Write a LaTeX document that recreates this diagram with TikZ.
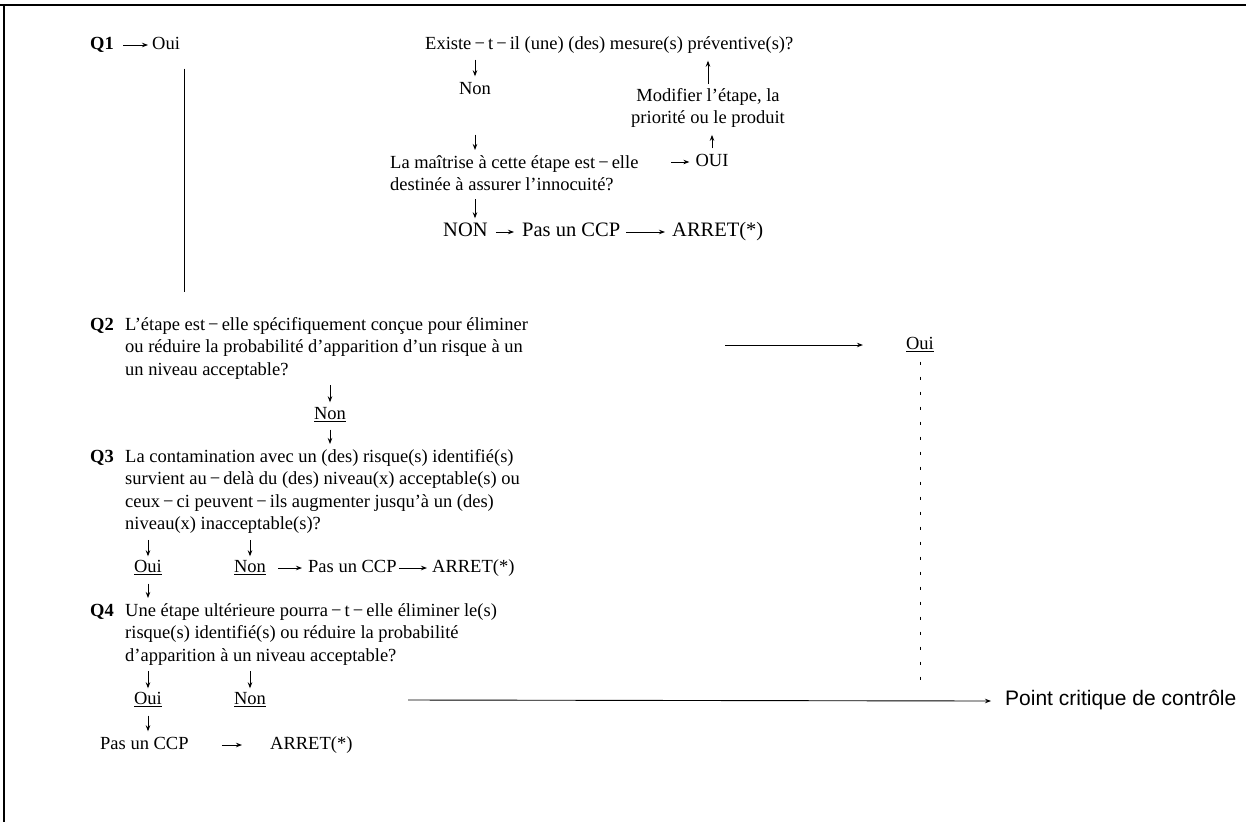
\documentclass[tikz,border=0pt]{standalone}
\usepackage{fontspec}
\setmainfont{Liberation Serif}
\newfontfamily\pccfont{Liberation Sans}
\usetikzlibrary{arrows.meta}
\begin{document}
\begin{tikzpicture}[x=1pt,y=-1pt,
  every node/.style={inner sep=0pt,font=\fontsize{18.5}{22.5}\selectfont},
  oneline/.style={text height=13pt,text depth=4pt},
  txt/.style={oneline,anchor=west},
  ctr/.style={oneline,anchor=center},
  para/.style={anchor=north west,align=left},
  qlab/.style={oneline,anchor=west,font=\fontsize{18.5}{22.5}\selectfont\bfseries},
  big/.style={font=\fontsize{20.5}{24}\selectfont},
  arr/.style={-{Stealth[length=6pt,width=4.5pt]},line width=0.9pt},
  plain/.style={line width=1pt},
  frame/.style={line width=1.6pt},
  dots/.style={line width=0.7pt,dash pattern=on 3pt off 12pt}]
\useasboundingbox (0,0) rectangle (1246,822);
\draw[frame] (0,5) -- (1246,5);
\draw[frame] (4,5) -- (4,822);

% Q1 block
\node[qlab] (q1) at (90,45) {Q1};
\node[txt] (q1oui) at (152,45) {Oui};
\draw[arr] ([xshift=9pt]q1.east) -- ([xshift=-4pt]q1oui.west);
\node[txt] (existe) at (425,45) {Existe\,−\,t\,−\,il (une) (des) mesure(s) préventive(s)?};
\node[ctr] (non1) at (475,90) {Non};
\node[anchor=north,align=center] (modif) at (708,88) {Modifier l’étape, la\\priorité ou le produit};
\node[ctr] (oui1) at (712,162) {OUI};
\node[para] (mait) at (390,155) {La maîtrise à cette étape est\,−\,elle\\destinée à assurer l’innocuité?};
\node[txt,big] (non2) at (443,232) {NON};
\node[txt,big] (pas1) at (522,232) {Pas un CCP};
\node[txt,big] (arret1) at (672,232) {ARRET(*)};

\draw[arr] ([yshift=-6pt]existe.south -| non1.north) -- ([yshift=5pt]non1.north);
\draw[arr] ([yshift=-36pt]non1.south) -- ([yshift=5pt]non1.south |- mait.north);
\draw[arr] ([yshift=-8pt]mait.south -| non1.south) -- ([yshift=5pt]non1.south |- non2.north);
\draw[arr] ([yshift=4pt]modif.north) -- ([yshift=-7pt]modif.north |- existe.south);
\draw[arr] ([yshift=5pt]oui1.north) -- ([yshift=-7pt]oui1.north |- modif.south);
\draw[arr] ([xshift=-24pt]oui1.west) -- ([xshift=-6pt]oui1.west);
\draw[arr] ([xshift=8pt]non2.east) -- ([xshift=-8pt]pas1.west);
\draw[arr] ([xshift=6pt]pas1.east) -- ([xshift=-7pt]arret1.west);

% Q2 block
\node[qlab] (q2) at (90,326) {Q2};
\node[para] (q2t) at (125,317) {L’étape est\,−\,elle spécifiquement conçue pour éliminer\\ou réduire la probabilité d’apparition d’un risque à un\\un niveau acceptable?};
\node[ctr] (q2non) at (330,415) {\underline{Non}};
\node[ctr] (q2oui) at (920,345) {\underline{Oui}};
\coordinate (q2a) at (725,345);
\draw[arr] (q2a) -- ([xshift=-43pt]q2oui.west);
\draw[plain] ([xshift=4pt,yshift=-15pt]q1oui.south east) -- ([xshift=4pt,yshift=25pt]q1oui.south east |- q2t.north);
\draw[arr] ([yshift=-6pt]q2t.south -| q2non.north) -- ([yshift=4pt]q2non.north);

% Q3 block
\node[qlab] (q3) at (90,458) {Q3};
\node[para] (q3t) at (125,449) {La contamination avec un (des) risque(s) identifié(s)\\survient au\,−\,delà du (des) niveau(x) acceptable(s) ou\\ceux\,−\,ci peuvent\,−\,ils augmenter jusqu’à un (des)\\niveau(x) inacceptable(s)?};
\draw[arr] ([yshift=-6pt]q2non.south) -- ([yshift=5pt]q2non.south |- q3t.north);
\node[ctr] (q3oui) at (148,568) {\underline{Oui}};
\node[ctr] (q3non) at (250,568) {\underline{Non}};
\node[txt] (pas2) at (308,568) {Pas un CCP};
\node[txt] (arret2) at (432,568) {ARRET(*)};
\draw[arr] ([yshift=-6pt]q3t.south -| q3oui.north) -- ([yshift=3pt]q3oui.north);
\draw[arr] ([yshift=-6pt]q3t.south -| q3non.north) -- ([yshift=3pt]q3non.north);
\draw[arr] ([xshift=12pt]q3non.east) -- ([xshift=-6pt]pas2.west);
\draw[arr] ([xshift=2pt]pas2.east) -- ([xshift=-5pt]arret2.west);

% Q4 block
\node[qlab] (q4) at (90,612) {Q4};
\node[para] (q4t) at (125,603) {Une étape ultérieure pourra\,−\,t\,−\,elle éliminer le(s)\\risque(s) identifié(s) ou réduire la probabilité\\d’apparition à un niveau acceptable?};
\draw[arr] ([yshift=-7pt]q3oui.south) -- ([yshift=5pt]q3oui.south |- q4t.north);
\node[ctr] (q4oui) at (148,700) {\underline{Oui}};
\node[ctr] (q4non) at (250,700) {\underline{Non}};
\node[oneline,anchor=west,font=\fontsize{21}{25}\pccfont] (pcc) at (1005,701) {Point critique de contrôle};
\draw[arr] ([yshift=-6pt]q4t.south -| q4oui.north) -- ([yshift=3pt]q4oui.north);
\draw[arr] ([yshift=-6pt]q4t.south -| q4non.north) -- ([yshift=3pt]q4non.north);
\draw[arr] ([xshift=142pt]q4non.east) -- ([xshift=-14pt]pcc.west);
\draw[dots] ([yshift=-8pt]q2oui.south) -- ([yshift=3pt]q2oui.south |- pcc.north);
\node[txt] (pas3) at (100,745) {Pas un CCP};
\node[txt] (arret3) at (270,745) {ARRET(*)};
\draw[arr] ([yshift=-7pt]q4oui.south) -- ([yshift=5pt]q4oui.south |- pas3.north);
\draw[arr] ([xshift=33pt]pas3.east) -- ([xshift=-28pt]arret3.west);
\end{tikzpicture}
\end{document}
